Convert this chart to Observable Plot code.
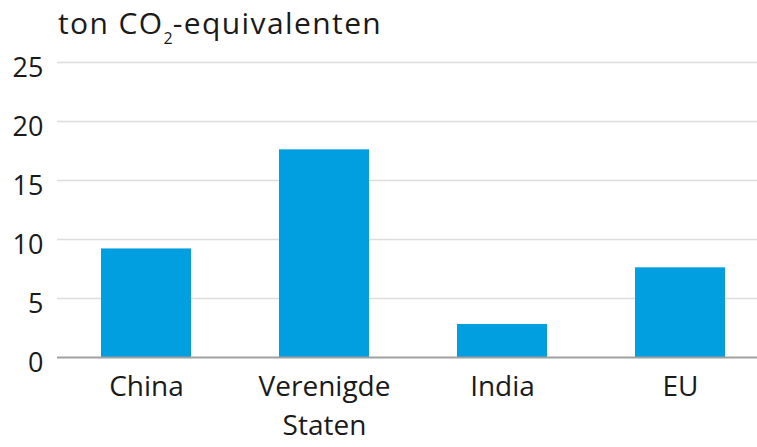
<!DOCTYPE html>
<html>
<head>
<meta charset="utf-8">
<script src="https://cdn.jsdelivr.net/npm/d3@7"></script>
<script src="https://cdn.jsdelivr.net/npm/@observablehq/plot@0.6"></script>
<style>
  html, body { margin: 0; padding: 0; background: #fff; }
  body { width: 757px; height: 447px; overflow: hidden; font-family: "Open Sans", sans-serif; color: #1a1a1a; }
  #title { height: 44px; padding-top: 2px; padding-left: 58px; font-size: 30px; letter-spacing: 1.4px; line-height: 42px; box-sizing: border-box; white-space: nowrap; }
  #title sub { font-size: 16px; vertical-align: -10px; line-height: 0; letter-spacing: 0; }
  svg { display: block; overflow: visible; }
</style>
</head>
<body>
<div id="title">ton CO<sub>2</sub>-equivalenten</div>
<div id="chart"></div>
<script>
const categories = ["China", "Verenigde Staten", "India", "EU"];
const values = [9.2, 17.6, 2.8, 7.6];
const yTicks = [0, 5, 10, 15, 20, 25];

const data = categories.map((c, i) => ({category: c, value: values[i]}));

const chart = Plot.plot({
  width: 757,
  height: 403,
  marginTop: 18,
  marginBottom: 90,
  marginLeft: 57,
  marginRight: 0,
  style: {fontFamily: "Open Sans, sans-serif", color: "#1a1a1a", background: "#fff", overflow: "visible"},
  x: {domain: categories, range: [57, 769], paddingInner: 0.494, paddingOuter: 0.247, label: null},
  y: {domain: [0, 25], label: null},
  marks: [
    Plot.ruleY(yTicks.filter(d => d > 0), {stroke: "#dcdcdc", strokeWidth: 1.5}),
    Plot.barY(data, {x: "category", y: "value", fill: "#019fdf"}),
    Plot.ruleY([0], {stroke: "#a0a0a0", strokeWidth: 2}),
    Plot.axisY(yTicks, {tickSize: 0, tickPadding: 14, fontSize: 27, dy: 6, label: null}),
    Plot.axisX({tickSize: 0, tickPadding: 11, fontSize: 28, lineHeight: 1.39, label: null,
      style: {letterSpacing: "1.8px"},
      tickFormat: d => d.replace(" ", "\n")})
  ]
});
document.getElementById("chart").appendChild(chart);
</script>
</body>
</html>
